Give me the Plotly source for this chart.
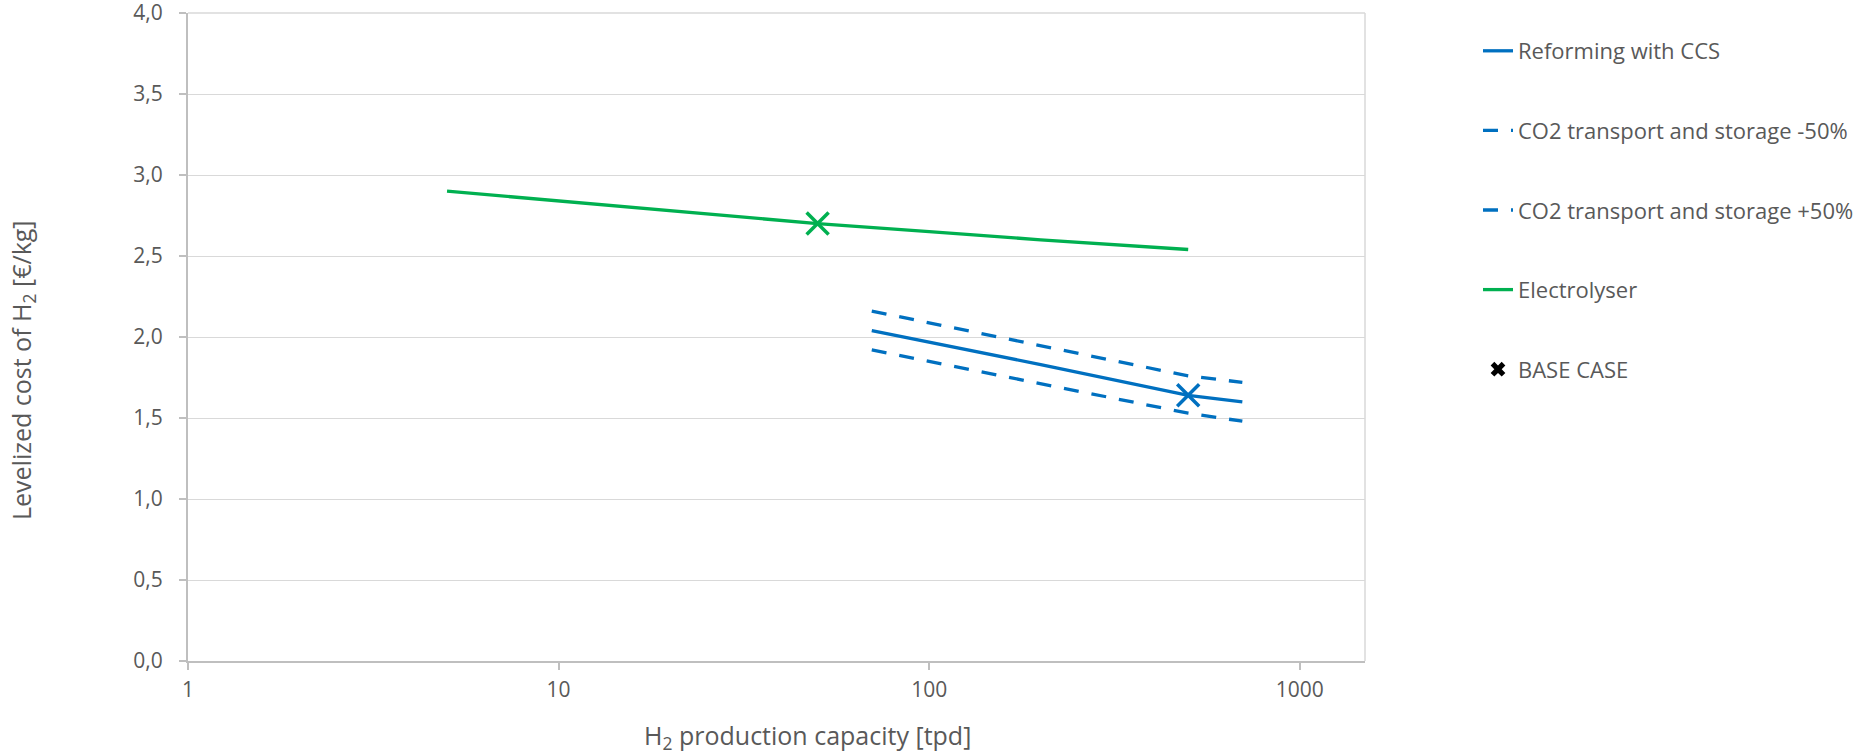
import math
import plotly.graph_objects as go

# ---------------- data ----------------
reforming_x = [70, 100, 200, 500, 700]
reforming_y = [2.04, 1.97, 1.83, 1.64, 1.60]

co2_minus_x = [70, 500, 700]
co2_minus_y = [1.92, 1.53, 1.48]

co2_plus_x = [70, 500, 700]
co2_plus_y = [2.16, 1.76, 1.72]

electro_x = [5, 10, 20, 50, 100, 200, 500]
electro_y = [2.90, 2.84, 2.78, 2.70, 2.65, 2.60, 2.54]

base_electro_x = [50]
base_electro_y = [2.70]
base_reform_x = [500]
base_reform_y = [1.64]

x_tickvals = [1, 10, 100, 1000]
x_ticktext = ["1", "10", "100", "1000"]
y_tickvals = [0, 0.5, 1.0, 1.5, 2.0, 2.5, 3.0, 3.5, 4.0]
y_ticktext = ["0,0", "0,5", "1,0", "1,5", "2,0", "2,5", "3,0", "3,5", "4,0"]

names = ["Reforming with CCS", "CO2 transport and storage -50%",
         "CO2 transport and storage +50%", "Electrolyser", "BASE CASE"]

x_title = "H<sub>2</sub> production capacity [tpd]"
y_title = "Levelized cost of H<sub>2</sub> [€/kg]"

# ---------------- style ----------------
BLUE = "#0070C0"
GREEN = "#00B050"
TEXT = "#595959"
GRID = "#D9D9D9"
AXIS = "#BFBFBF"
FONT = "Open Sans, Segoe UI, sans-serif"

W, H = 1872, 753
L, R, T, B = 188, 1365, 13, 661

fig = go.Figure()

fig.add_trace(go.Scatter(x=reforming_x, y=reforming_y, mode="lines", name=names[0],
                         legendgroup="g1", line=dict(color=BLUE, width=3.3)))
fig.add_trace(go.Scatter(x=co2_minus_x, y=co2_minus_y, mode="lines", name=names[1],
                         legendgroup="g2", line=dict(color=BLUE, width=3.3, dash="15px,13px")))
fig.add_trace(go.Scatter(x=co2_plus_x, y=co2_plus_y, mode="lines", name=names[2],
                         legendgroup="g3", line=dict(color=BLUE, width=3.3, dash="15px,13px")))
fig.add_trace(go.Scatter(x=electro_x, y=electro_y, mode="lines", name=names[3],
                         legendgroup="g4", line=dict(color=GREEN, width=3.3)))
# base-case markers on the curves
fig.add_trace(go.Scatter(x=base_electro_x, y=base_electro_y, mode="markers", showlegend=False,
                         marker=dict(symbol="x-thin", size=22, line=dict(width=3.5, color=GREEN))))
fig.add_trace(go.Scatter(x=base_reform_x, y=base_reform_y, mode="markers", showlegend=False,
                         marker=dict(symbol="x-thin", size=22, line=dict(width=3.5, color=BLUE))))
# legend entry for base case
fig.add_trace(go.Scatter(x=[None], y=[None], mode="markers", name=names[4], legendgroup="g5",
                         marker=dict(symbol="x", size=13, color="black")))

fig.update_layout(
    width=W, height=H,
    margin=dict(l=L, r=W - R, t=T, b=H - B, pad=0, autoexpand=False),
    paper_bgcolor="white", plot_bgcolor="white",
    font=dict(family=FONT, color=TEXT, size=21),
    showlegend=True,
    legend=dict(
        x=(1478 - L) / (R - L), xanchor="left",
        y=1 - (30 - T) / (B - T), yanchor="top",
        font=dict(size=22, color=TEXT, family=FONT),
        traceorder="grouped", tracegroupgap=48,
        bgcolor="rgba(0,0,0,0)", itemwidth=30,
    ),
    xaxis=dict(
        type="log", range=[0, math.log10(1500)],
        tickvals=x_tickvals, ticktext=x_ticktext,
        showgrid=False, zeroline=False, automargin=False,
        showline=True, linecolor=AXIS, linewidth=1.5,
        ticks="outside", ticklen=7, tickcolor=AXIS, tickwidth=1.5,
        tickfont=dict(size=21, color=TEXT), ticklabelstandoff=2,
        ticklabeloverflow="allow",
    ),
    yaxis=dict(
        range=[0, 4], tickvals=y_tickvals, ticktext=y_ticktext,
        showgrid=True, gridcolor=GRID, gridwidth=1.2, zeroline=False, automargin=False,
        showline=True, linecolor=AXIS, linewidth=2,
        ticks="outside", ticklen=7, tickcolor=AXIS, tickwidth=1.5,
        tickfont=dict(size=21, color=TEXT), ticklabelstandoff=12,
        ticklabeloverflow="allow",
    ),
    shapes=[
        dict(type="line", xref="paper", yref="paper", x0=1, x1=1, y0=0, y1=1,
             line=dict(color=GRID, width=1.5), layer="below"),
        dict(type="line", xref="paper", yref="paper", x0=0, x1=1, y0=1, y1=1,
             line=dict(color=GRID, width=1.5), layer="below"),
    ],
    annotations=[
        dict(text=x_title, xref="paper", yref="paper",
             x=(807 - L) / (R - L), y=-(736 - B) / (B - T),
             xanchor="center", yanchor="middle", showarrow=False,
             font=dict(size=25, color=TEXT, family=FONT)),
        dict(text=y_title, xref="paper", yref="paper",
             x=(22 - L) / (R - L), y=(B - 370) / (B - T),
             xanchor="center", yanchor="middle", showarrow=False, textangle=-90,
             font=dict(size=25, color=TEXT, family=FONT)),
    ],
)

fig.write_html("out.html")
